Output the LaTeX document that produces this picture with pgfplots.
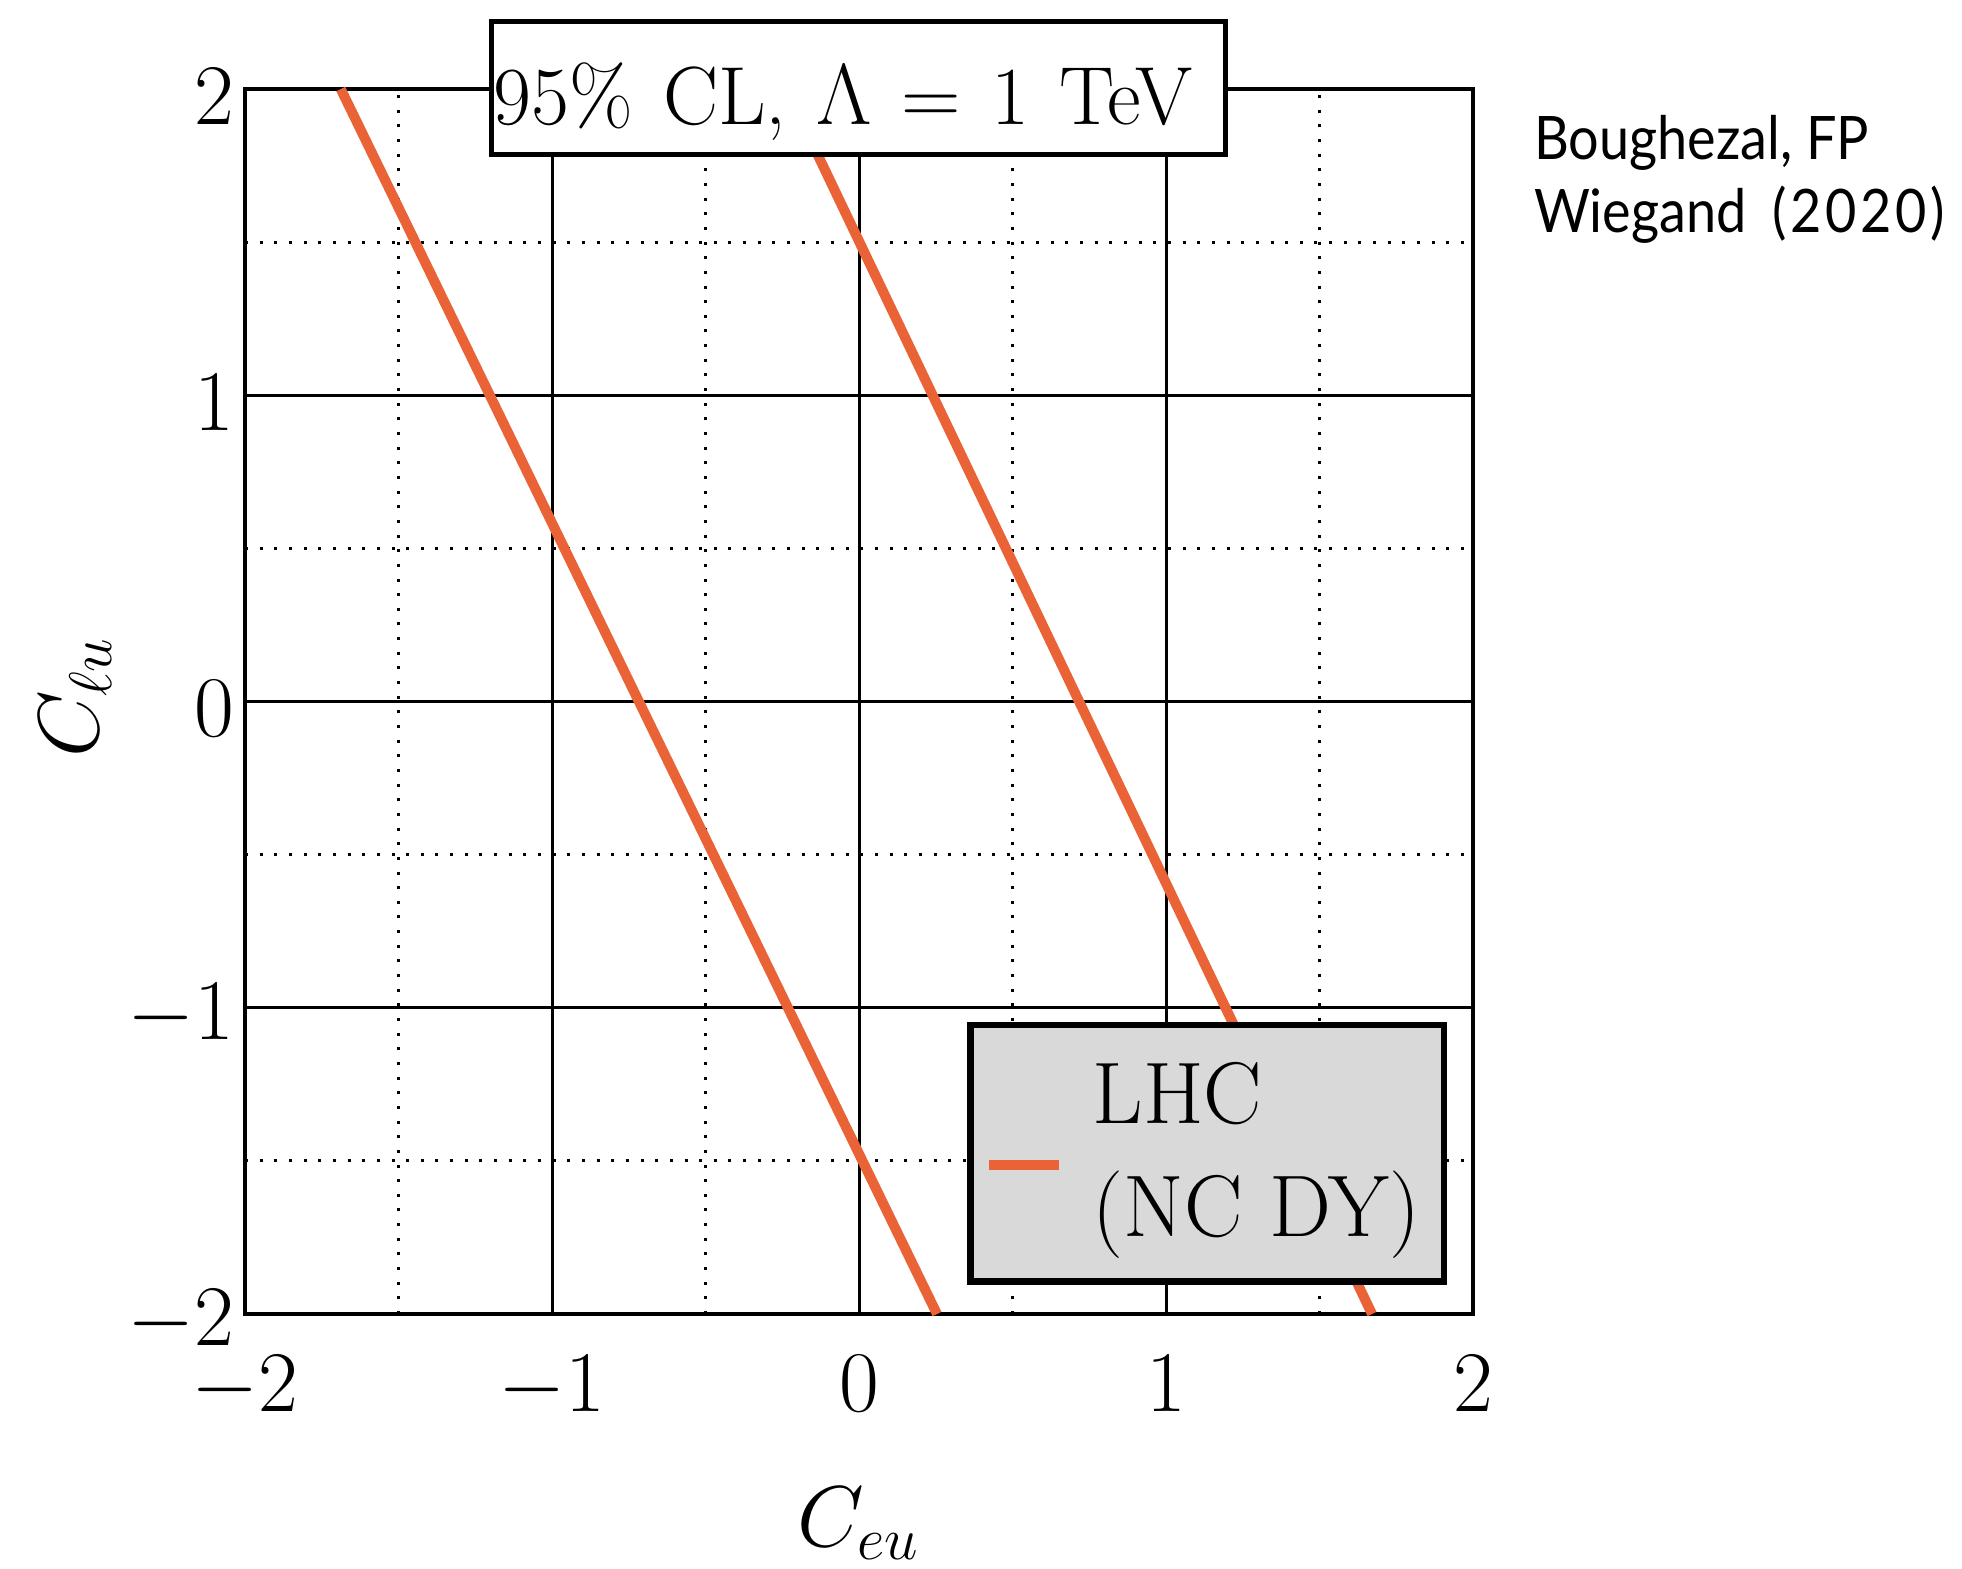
\documentclass[border=0pt]{standalone}
\usepackage{fontspec}
\usepackage{pgfplots}
\pgfplotsset{compat=1.18}
\newfontfamily\gill[FakeStretch=0.9]{Lato}
\newfontfamily\gillw[FakeStretch=0.9,LetterSpace=6]{Lato}
\definecolor{lhc}{RGB}{234,99,54}
\newcommand\fs{\fontsize{16.5}{22.6}\selectfont}
\newcommand\fl{\fontsize{17.5}{22.6}\selectfont}
\begin{document}
\begin{tikzpicture}
\useasboundingbox (-49pt,-50.8pt) rectangle (343.4pt,262.8pt);
\begin{axis}[
 at={(0pt,0pt)}, anchor=south west,
 scale only axis, width=245.6pt, height=245pt,
 xmin=-2,xmax=2,ymin=-2,ymax=2,
 xtick={-2,-1,0,1,2}, ytick={-2,-1,0,1,2},
 minor xtick={-1.5,-0.5,0.5,1.5}, minor ytick={-1.5,-0.5,0.5,1.5},
 grid=both,
 major grid style={black, line width=0.6pt},
 minor grid style={black, line width=0.6pt, dash pattern=on 0.6pt off 2.33pt},
 axis line style={line width=0.94pt},
 major tick length=0pt, minor tick length=0pt,
 tick label style={font=\fs, inner sep=0pt},
 xticklabel style={yshift=-8.2pt},
 yticklabel style={xshift=-1.9pt, yshift=-1.5pt},
 label style={font=\fs},
 xlabel={$C_{eu}$}, ylabel={$C_{\ell u}$},
 xlabel style={at={(axis description cs:0.5,-0.19)}, anchor=base},
 ylabel style={at={(axis description cs:-0.119,0.504)}, anchor=base},
 clip=false,
 legend style={at={(rel axis cs:0.979,0.0237)}, anchor=south east,
   fill=black!15, draw=black, line width=1.34pt, inner xsep=2.7pt, inner ysep=5.5pt,
   font=\fl, cells={anchor=west, align=left},
   /tikz/every odd column/.append style={column sep=3.75pt}},
 legend image code/.code={\path (0pt,-2.25pt) -- (2.15pt,-2.25pt);\draw[#1] (2.15pt,-2.25pt) -- (13.95pt,-2.25pt);},
]
\addplot[lhc, line width=2pt] coordinates {(-1.688,2) (0.254,-2)};
\addlegendentry{LHC\\(NC DY)}
\addplot[lhc, line width=2pt, forget plot] coordinates {(-0.237,2) (1.671,-2)};
\end{axis}
\node[draw, line width=0.94pt, fill=white, minimum width=146.9pt, minimum height=26.7pt, inner sep=0pt] at (122.7pt,245.2pt) {};
\node[anchor=base, font=\fs, inner sep=0pt] at (119.6pt,237.8pt) {\spaceskip=6.0pt 95\% CL, $\Lambda$ = 1 TeV};
\node[anchor=base west, inner sep=0pt, font=\gill\fontsize{12}{14}\selectfont] at (257.6pt,230.8pt) {Boughezal, FP};
\node[anchor=base west, inner sep=0pt, font=\gill\fontsize{12}{14}\selectfont] at (257.6pt,216.2pt) {Wiegand\hspace{2.5pt} {\gillw (2020)}};
\end{tikzpicture}
\end{document}
